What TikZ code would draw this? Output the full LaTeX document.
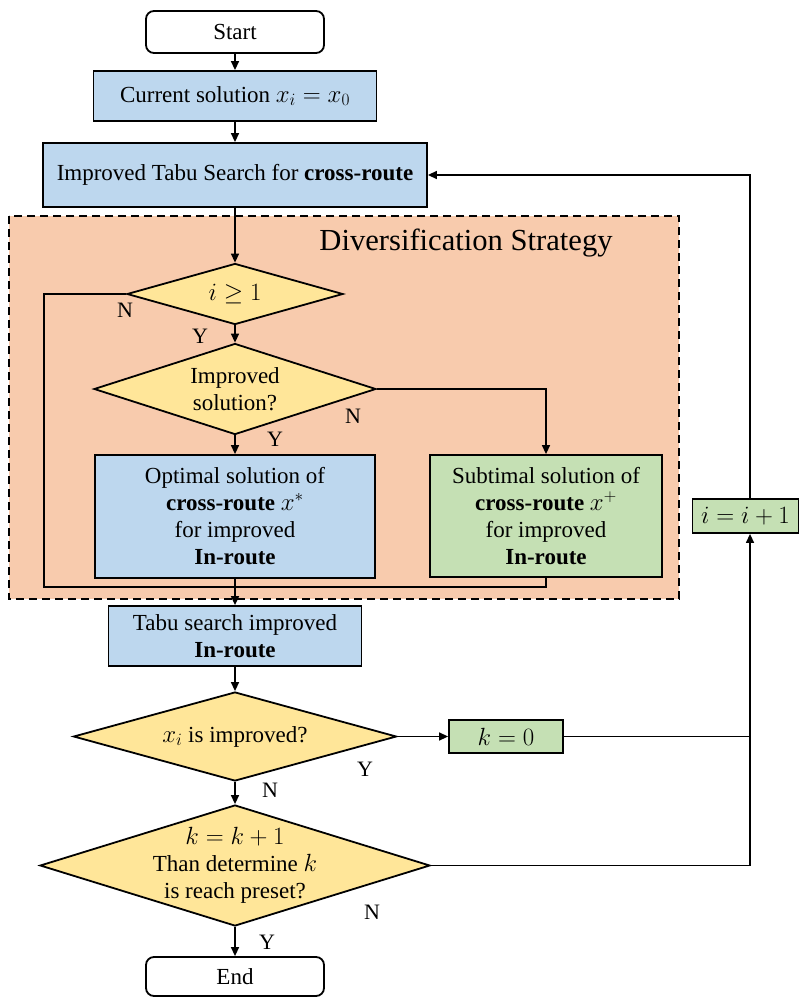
\documentclass[tikz,border=0pt]{standalone}
\usepackage{fontspec}
\setmainfont{Liberation Serif}
\usetikzlibrary{shapes.geometric,arrows.meta}
\definecolor{bluefill}{HTML}{BDD7EE}
\definecolor{yellowfill}{HTML}{FFE699}
\definecolor{greenfill}{HTML}{C5E0B4}
\definecolor{orangefill}{HTML}{F8CBAD}
\begin{document}
\begin{tikzpicture}[x=1pt,y=-1pt,
  every node/.style={font=\fontsize{23}{27}\selectfont},
  box/.style={draw, line width=1.8pt, inner sep=0pt, align=center},
  term/.style={box, rounded corners=8pt, fill=white},
  bluebox/.style={box, fill=bluefill},
  greenbox/.style={box, fill=greenfill},
  dec/.style={draw, line width=1.8pt, inner sep=0pt, align=center, diamond, fill=yellowfill},
  arr/.style={line width=1.4pt, -{Triangle[length=9pt,width=8pt]}},
  ln/.style={line width=1.4pt},
  lab/.style={font=\fontsize{22}{26}\selectfont}
]
\useasboundingbox (0,0) rectangle (799,998);

% dashed region
\draw[fill=orangefill, line width=1.9pt, dash pattern=on 8pt off 5pt] (9,216) rectangle (679,599);
\node[font=\fontsize{30.6}{36}\selectfont] (title) at (466,243) {Diversification Strategy};

\node[term, minimum width=178pt, minimum height=42pt] (start) at (235,32) {Start};
\node[bluebox, minimum width=283pt, minimum height=50pt] (cur) at (235,96) {Current solution $x_i = x_0$};
\node[bluebox, minimum width=384pt, minimum height=64pt] (its) at (235,175) {Improved Tabu Search for \textbf{cross-route}};

\node[dec, aspect=3.5, minimum width=216pt, minimum height=61pt] (d1) at (235,294) {$i \geq 1$};
\node[dec, aspect=3.1, minimum width=282pt, minimum height=91pt] (d2) at (235,389) {Improved\\solution?};

\node[bluebox, minimum width=280pt, minimum height=123pt] (opt) at (235,516.5) {Optimal solution of\\\textbf{cross-route} \smash{$x^{*}$}\\for improved\\\textbf{In-route}};
\node[greenbox, minimum width=232pt, minimum height=122pt] (sub) at (546,516) {Subtimal solution of\\\textbf{cross-route} \smash{$x^{+}$}\\for improved\\\textbf{In-route}};

\node[bluebox, minimum width=253pt, minimum height=60pt] (tabu) at (235,636) {Tabu search improved\\\textbf{In-route}};
\node[dec, aspect=3.6, minimum width=323pt, minimum height=89pt] (d3) at (235,736.5) {$x_i$ is improved?};
\node[greenbox, minimum width=114pt, minimum height=33pt] (k0) at (506,736.5) {$k=0$};
\node[dec, inner sep=-18pt, aspect=3.2, minimum width=390pt, minimum height=121pt] (d4) at (235,865.5) {$k=k+1$\\Than determine $k$\\is reach preset?};
\node[term, minimum width=178pt, minimum height=39pt] (end) at (235,976.5) {End};
\node[greenbox, minimum width=106pt, minimum height=34pt] (ii) at (745.5,516) {$i=i+1$};

% connectors
\draw[arr] (start) -- (cur);
\draw[arr] (cur) -- (its);
\draw[arr] (its) -- (d1);
\draw[arr] (d1) -- (d2);
\draw[arr] (d2) -- (opt);
\draw[arr] (d2.east) -| (sub.north);
\coordinate (lb) at (44,587);
\draw[ln] (d1.west) -| (lb) -| (sub.south);
\draw[arr] (opt.south) -- (tabu.north);
\draw[arr] (tabu) -- (d3);
\draw[arr] (d3) -- (d4);
\draw[arr] (d4) -- (end);
\draw[arr] (d3.east) -- (k0.west);
\coordinate (rx) at (750,175);
\draw[ln] (k0.east) -- (k0.east -| rx);
\draw[arr] (d4.east) -- (d4.east -| rx) -- (rx |- ii.south);
\draw[arr] (rx |- ii.north) -- (rx) -- (its.east);

% labels
\node[lab] (n1) at (125,310) {N};
\node[lab] (y1) at (200,336) {Y};
\node[lab] (n2) at (353,416) {N};
\node[lab] (y2) at (275,439) {Y};
\node[lab] (y3) at (365,769) {Y};
\node[lab] (n3) at (270,790) {N};
\node[lab] (n4) at (372,912) {N};
\node[lab] (y4) at (267,942) {Y};
\end{tikzpicture}
\end{document}
